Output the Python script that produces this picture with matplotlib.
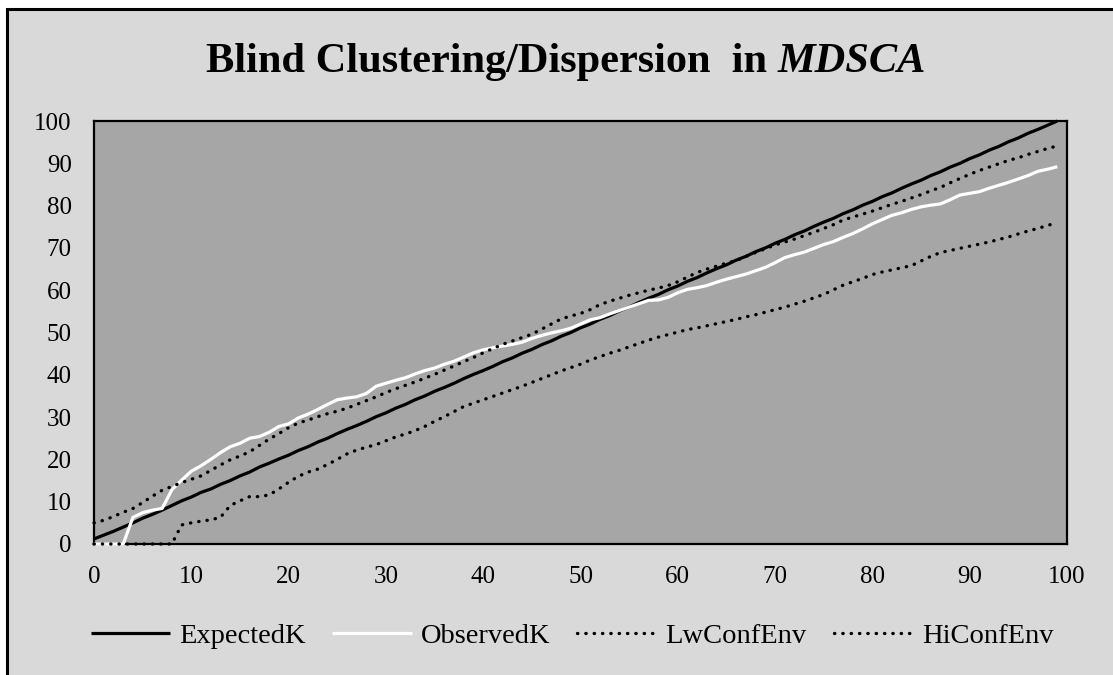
import matplotlib
matplotlib.use("Agg")
import matplotlib.pyplot as plt
from matplotlib.patches import Rectangle

# distance classes and the four K-function series
dist = list(range(0, 100))

expected_k = [1.2, 2.1, 3.0, 4.0, 5.0, 6.1, 7.0, 8.0, 9.1, 10.2,
              11.1, 12.2, 13.0, 14.1, 15.0, 16.1, 17.0, 18.2, 19.1, 20.1,
              21.0, 22.1, 23.0, 24.1, 25.0, 26.1, 27.1, 28.0, 29.0, 30.1,
              31.0, 32.1, 33.0, 34.1, 35.0, 36.1, 37.0, 38.0, 39.1, 40.1,
              41.0, 42.0, 43.1, 44.0, 45.1, 46.0, 47.1, 48.0, 49.1, 50.0,
              51.1, 52.0, 53.1, 54.0, 55.1, 56.0, 57.1, 58.1, 59.0, 60.1,
              61.0, 62.1, 63.0, 64.1, 65.1, 66.0, 67.1, 68.0, 69.1, 70.0,
              71.1, 72.0, 73.1, 74.0, 75.1, 76.1, 77.0, 78.1, 79.0, 80.1,
              81.0, 82.1, 83.0, 84.1, 85.1, 86.0, 87.1, 88.0, 89.1, 90.0,
              91.1, 92.0, 93.1, 94.0, 95.1, 96.0, 97.1, 98.0, 99.0, 100.0]

observed_k = [0, 0, 0, 0, 6.3, 7.4, 8.0, 8.4, 12.8, 15.1,
              17.2, 18.5, 20.0, 21.6, 23.0, 23.8, 25.0, 25.4, 26.4, 27.8,
              28.4, 29.8, 30.7, 31.8, 33.0, 34.1, 34.5, 34.8, 35.6, 37.3,
              38.0, 38.7, 39.3, 40.2, 41.0, 41.6, 42.5, 43.2, 44.2, 45.2,
              45.9, 46.4, 46.8, 47.2, 47.7, 48.6, 49.3, 49.9, 50.4, 51.0,
              52.0, 53.0, 53.5, 54.4, 55.2, 56.0, 56.8, 57.6, 57.7, 58.3,
              59.4, 60.2, 60.6, 61.1, 61.9, 62.6, 63.2, 63.8, 64.6, 65.4,
              66.5, 67.7, 68.4, 69.0, 69.9, 70.8, 71.5, 72.5, 73.4, 74.5,
              75.7, 76.7, 77.7, 78.3, 79.1, 79.7, 80.1, 80.4, 81.4, 82.5,
              82.9, 83.3, 84.1, 84.8, 85.5, 86.3, 87.1, 88.1, 88.6, 89.2]

lw_conf_env = [0, 0, 0, 0, 0, 0, 0, 0, 0, 4.5,
               5.0, 5.4, 5.7, 6.3, 9.1, 10.2, 11.2, 11.2, 11.6, 13.0,
               14.6, 16.0, 17.0, 17.7, 18.8, 20.0, 21.3, 22.2, 22.9, 23.5,
               24.4, 25.3, 26.0, 26.8, 27.8, 29.0, 30.1, 31.3, 32.5, 33.3,
               34.1, 34.9, 35.7, 36.5, 37.3, 38.2, 39.1, 40.0, 40.9, 41.7,
               42.5, 43.5, 44.3, 45.1, 45.8, 46.6, 47.4, 48.2, 48.9, 49.5,
               50.1, 50.7, 51.1, 51.6, 52.1, 52.6, 53.1, 53.7, 54.2, 54.8,
               55.4, 56.0, 56.7, 57.4, 58.2, 59.0, 60.1, 61.2, 62.0, 62.8,
               63.7, 64.3, 64.8, 65.3, 65.8, 66.9, 68.0, 68.9, 69.4, 69.9,
               70.4, 70.9, 71.4, 72.0, 72.6, 73.3, 74.0, 74.6, 75.3, 76.0]

hi_conf_env = [5.0, 5.6, 6.5, 7.5, 8.4, 9.8, 11.3, 12.7, 13.6, 14.5,
               15.3, 16.1, 17.4, 18.7, 19.9, 20.8, 21.8, 23.3, 24.8, 26.1,
               27.5, 28.6, 29.3, 30.1, 30.8, 31.4, 32.1, 33.0, 33.9, 34.8,
               35.8, 36.7, 37.5, 38.3, 39.2, 40.1, 41.1, 42.1, 43.1, 44.1,
               45.2, 46.2, 47.2, 48.0, 48.8, 49.6, 50.8, 52.0, 53.2, 53.9,
               54.5, 55.4, 56.6, 57.4, 58.1, 58.8, 59.4, 60.0, 60.5, 61.1,
               62.0, 63.1, 64.2, 65.0, 65.7, 66.4, 67.0, 68.0, 68.9, 69.8,
               70.7, 71.4, 72.1, 72.9, 73.7, 74.6, 75.5, 76.6, 77.3, 78.0,
               78.7, 79.5, 80.3, 81.0, 81.8, 82.6, 83.5, 84.3, 85.4, 86.4,
               87.4, 88.3, 89.1, 89.9, 90.7, 91.3, 92.1, 92.8, 93.5, 94.1]

ticks = [0, 10, 20, 30, 40, 50, 60, 70, 80, 90, 100]

SERIF = ["Liberation Serif", "DejaVu Serif"]
W, H = 1113, 675

fig = plt.figure(figsize=(W / 100, H / 100), dpi=100, facecolor="white")

# chart area: light grey box with a black frame, kept behind the axes
fig.patches.append(Rectangle((7 / W, -0.05), 1.1, (H - 9) / H + 0.05,
                             transform=fig.transFigure, facecolor="#d9d9d9",
                             edgecolor="black", linewidth=2.2, zorder=-5))

ax = fig.add_axes([94 / W, 1 - 544 / H, (1067 - 94) / W, (544 - 121) / H])
ax.set_facecolor("#a6a6a6")

ax.plot(dist, expected_k, color="black", lw=2.3, label="ExpectedK",
        clip_on=False, zorder=3, solid_capstyle="butt")
ax.plot(dist, observed_k, color="white", lw=2.3, label="ObservedK",
        clip_on=False, zorder=3, solid_capstyle="butt")
for vals, name in [(lw_conf_env, "LwConfEnv"), (hi_conf_env, "HiConfEnv")]:
    ln, = ax.plot(dist, vals, color="black", lw=2.4, label=name,
                  clip_on=False, zorder=4, dash_capstyle="round")
    ln.set_dashes((0.1, 2.4))

ax.set_xlim(0, 100)
ax.set_ylim(0, 100)
ax.set_xticks(ticks)
ax.set_yticks(ticks)
ax.tick_params(length=0, labelsize=18, pad=16, colors="black")
for lab in ax.get_xticklabels() + ax.get_yticklabels():
    lab.set_fontfamily(SERIF)
for sp in ax.spines.values():
    sp.set_linewidth(1.6)
    sp.set_color("black")

# title: bold text followed by the italic model name
renderer = fig.canvas.get_renderer()
t1 = fig.text(0, 1 - 62 / H, "Blind Clustering/Dispersion  in ",
              fontsize=30.5, fontweight="bold", family=SERIF, va="center")
t2 = fig.text(0, 1 - 62 / H, "MDSCA", fontsize=30.5, fontweight="bold",
              fontstyle="italic", family=SERIF, va="center")
w1 = t1.get_window_extent(renderer).width
w2 = t2.get_window_extent(renderer).width
x0 = (566 - (w1 + w2) / 2) / W
t1.set_x(x0)
t2.set_x(x0 + w1 / W)

leg = fig.legend(loc="center", bbox_to_anchor=(572 / W, 1 - 636 / H), ncol=4,
                 frameon=False, prop={"family": SERIF, "size": 20.5},
                 handlelength=2.8, handletextpad=0.3, columnspacing=0.95)

fig.savefig("out.png", dpi=100, facecolor=fig.get_facecolor())
